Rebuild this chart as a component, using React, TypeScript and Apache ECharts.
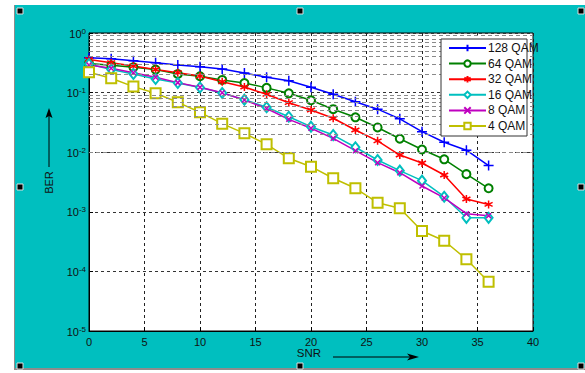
import React, { useEffect, useRef } from "react";
import * as echarts from "echarts";

const SNR = [0, 2, 4, 6, 8, 10, 12, 14, 16, 18, 20, 22, 24, 26, 28, 30, 32, 34, 36];

const BER_128QAM = [0.384, 0.371, 0.342, 0.318, 0.29, 0.272, 0.249, 0.213, 0.181, 0.158, 0.123, 0.094, 0.0703, 0.0527, 0.0363, 0.0221, 0.0147, 0.0108, 0.00598];
const BER_64QAM = [0.308, 0.287, 0.266, 0.243, 0.205, 0.188, 0.163, 0.145, 0.12, 0.0973, 0.0743, 0.0527, 0.0385, 0.026, 0.0168, 0.0111, 0.0076, 0.00428, 0.00248];
const BER_32QAM = [0.359, 0.318, 0.279, 0.244, 0.216, 0.19, 0.152, 0.124, 0.0936, 0.0677, 0.0511, 0.0371, 0.0236, 0.0155, 0.00897, 0.00659, 0.00414, 0.00164, 0.00133];
const BER_16QAM = [0.302, 0.244, 0.205, 0.169, 0.145, 0.122, 0.0985, 0.076, 0.0567, 0.0394, 0.0268, 0.0194, 0.0121, 0.0074, 0.0049, 0.00333, 0.00179, 0.000793, 0.000793];
const BER_8QAM = [0.29, 0.256, 0.216, 0.181, 0.147, 0.123, 0.0996, 0.0751, 0.0541, 0.0356, 0.0252, 0.0171, 0.0106, 0.00667, 0.00453, 0.00271, 0.00171, 0.000929, 0.000857];
const BER_4QAM = [0.219, 0.174, 0.126, 0.0973, 0.0687, 0.0467, 0.0301, 0.0207, 0.01356, 0.00791, 0.00571, 0.00365, 0.00248, 0.00142, 0.001145, 0.000476, 0.000327, 0.00016, 0.0000671];

const SERIES_NAMES = ["128 QAM", "64 QAM", "32 QAM", "16 QAM", "8 QAM", "4 QAM"];

const MINOR_DECADES = [-5, -4, -3, -2, -1];
const MINOR_STEPS = [2, 3, 4, 5, 6, 7, 8, 9];

const X_MIN = 0;
const X_MAX = 40;
const X_INTERVAL = 5;
const Y_MIN = 1e-5;
const Y_MAX = 1;

export default function App() {
  const ref = useRef<HTMLDivElement>(null);

  useEffect(() => {
    if (!ref.current) return;
    const chart = echarts.init(ref.current, undefined, { renderer: "svg" });
    const font = "Liberation Sans";
    const toData = (arr: number[]) => SNR.map((x, i) => [x, arr[i]]);

    const minorLines: any[] = [];
    MINOR_DECADES.forEach((d) => {
      MINOR_STEPS.forEach((k) => {
        minorLines.push({ yAxis: k * Math.pow(10, d) });
      });
    });

    const mk = (
      name: string,
      arr: number[],
      color: string,
      symbol: string,
      symbolSize: any,
      fill?: string
    ) => ({
      name,
      type: "line",
      data: toData(arr),
      symbol,
      symbolSize,
      showSymbol: true,
      lineStyle: { color, width: 1.5 },
      itemStyle: { color: fill ?? color, borderColor: color, borderWidth: 1.5 },
      emphasis: { disabled: true },
      z: 3,
    });

    const option: any = {
      animation: false,
      backgroundColor: "transparent",
      textStyle: { fontFamily: font },
      grid: {
        left: 89,
        top: 33,
        right: 52,
        bottom: 42,
        show: true,
        backgroundColor: "#ffffff",
        borderColor: "#000",
        borderWidth: 1,
      },
      xAxis: {
        type: "value",
        min: X_MIN,
        max: X_MAX,
        interval: X_INTERVAL,
        axisLine: { lineStyle: { color: "#000", width: 1 } },
        axisTick: { inside: true, length: 4, lineStyle: { color: "#000" } },
        axisLabel: { color: "#111", fontSize: 11, fontFamily: font, margin: 5 },
        splitLine: { show: true, lineStyle: { color: "#222", type: [3, 3], width: 1 } },
      },
      yAxis: {
        type: "log",
        logBase: 10,
        min: Y_MIN,
        max: Y_MAX,
        axisLine: { lineStyle: { color: "#000", width: 1 } },
        axisTick: { inside: true, length: 4, lineStyle: { color: "#000" } },
        axisLabel: {
          margin: 3,
          formatter: (v: number) => {
            const e = Math.round(Math.log10(v));
            return `{b|10}{s|${e}}`;
          },
          rich: {
            b: { fontSize: 11, color: "#111", fontFamily: font, verticalAlign: "bottom", lineHeight: 12 },
            s: { fontSize: 8, color: "#111", fontFamily: font, verticalAlign: "top", lineHeight: 9, padding: [0, 0, 5, 0] },
          },
        },
        splitLine: { show: true, lineStyle: { color: "#333", type: [3, 3], width: 1 } },
      },
      legend: {
        orient: "vertical",
        left: 448,
        top: 42,
        padding: 0,
        itemGap: 3.6,
        itemWidth: 37,
        itemHeight: 8,
        z: 60,
        data: SERIES_NAMES,
        textStyle: { fontSize: 12, color: "#111", fontFamily: font, padding: [0, 0, 0, -3] },
      },
      graphic: [
        { type: "rect", z: 50, shape: { x: 441, y: 39, width: 86, height: 97 }, style: { fill: "#fff", stroke: "#333", lineWidth: 1 } },
        { type: "text", z: 60, x: 49, y: 182.5, rotation: Math.PI / 2, style: { text: "BER", fontSize: 11, fontFamily: font, fill: "#111", align: "center", verticalAlign: "middle" } },
        { type: "line", z: 60, shape: { x1: 49, y1: 167, x2: 49, y2: 114 }, style: { stroke: "#000", lineWidth: 1 } },
        { type: "polygon", z: 60, shape: { points: [[49, 108], [45.5, 118], [49, 116], [52.5, 118]] }, style: { fill: "#000" } },
        { type: "text", z: 60, x: 309, y: 353, style: { text: "SNR", fontSize: 11.5, fontFamily: font, fill: "#111", align: "center", verticalAlign: "middle" } },
        { type: "line", z: 60, shape: { x1: 333, y1: 357, x2: 412, y2: 357 }, style: { stroke: "#000", lineWidth: 1 } },
        { type: "polygon", z: 60, shape: { points: [[419, 357], [407, 353.5], [410, 357], [407, 360.5]] }, style: { fill: "#000" } },
        ...[
          [17, 8], [297, 8], [578, 8],
          [17, 184], [578, 184],
          [17, 363], [297, 363], [578, 363],
        ].map(([x, y]) => ({
          type: "rect",
          z: 70,
          shape: { x, y, width: 6, height: 6 },
          style: { fill: "#000", stroke: "#ddd", lineWidth: 1 },
        })),
      ],
      series: [
        {
          name: "minor-grid",
          type: "line",
          data: [],
          silent: true,
          z: 1,
          markLine: {
            silent: true,
            symbol: "none",
            label: { show: false },
            lineStyle: { color: "#8a8a8a", type: [4, 3], width: 1.2 },
            data: minorLines,
          },
        },
        mk(SERIES_NAMES[0], BER_128QAM, "#0000ff", "path://M5,0L5,10M0,5L10,5", 10),
        mk(SERIES_NAMES[1], BER_64QAM, "#008000", "emptyCircle", 8),
        mk(SERIES_NAMES[2], BER_32QAM, "#ff0000", "path://M5,0L5,10M0.7,2.5L9.3,7.5M0.7,7.5L9.3,2.5", 8),
        mk(SERIES_NAMES[3], BER_16QAM, "#00bfbf", "emptyDiamond", [8, 10]),
        mk(SERIES_NAMES[4], BER_8QAM, "#bf00bf", "path://M0,0L10,10M0,10L10,0", 5),
        mk(SERIES_NAMES[5], BER_4QAM, "#bfbf00", "emptyRect", 10),
      ],
    };
    chart.setOption(option);
    return () => chart.dispose();
  }, []);

  return (
    <div style={{ position: "fixed", left: 0, top: 0, width: 585, height: 373, background: "#fff" }}>
      <div
        style={{
          position: "absolute",
          left: 14,
          top: 5,
          width: 571,
          height: 365,
          background: "#00bfbf",
          borderLeft: "1.5px solid #8c8c8c",
          borderBottom: "2px solid #8c8c8c",
          boxSizing: "border-box",
        }}
      />
      <div ref={ref} style={{ position: "absolute", left: 0, top: 0, width: 585, height: 373 }} />
    </div>
  );
}
